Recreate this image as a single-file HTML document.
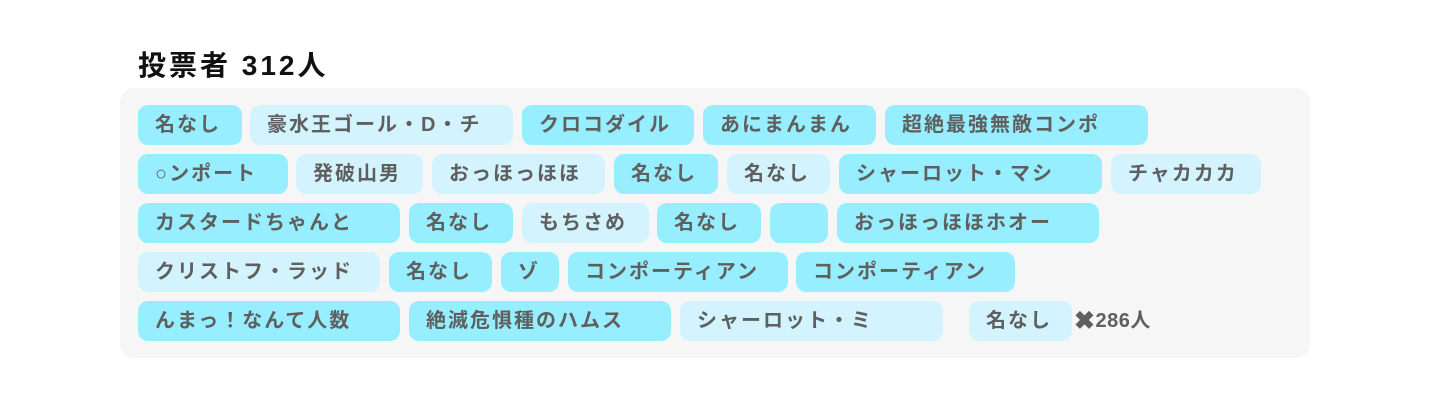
<!DOCTYPE html>
<html><head><meta charset="utf-8"><style>
body{margin:0;width:1429px;height:408px;background:#fff;position:relative;overflow:hidden;font-family:"Liberation Sans","Noto Sans CJK JP",sans-serif;}
.t{position:absolute;left:138px;top:47px;font-size:28px;font-weight:bold;color:#111;line-height:38px;letter-spacing:3px;}
.box{position:absolute;left:120px;top:88px;width:1190px;height:270px;background:#f6f6f6;border-radius:14px;}
.c{position:absolute;height:40px;line-height:40px;border-radius:10px;font-size:20px;font-weight:bold;color:#5f5f5f;padding-left:17px;box-sizing:border-box;white-space:nowrap;overflow:hidden;letter-spacing:2px;}
.d{background:#96eefe;}.l{background:#d3f4fe;}
.x{position:absolute;left:1074px;top:301px;line-height:40px;font-size:20px;font-weight:bold;color:#5f5f5f;letter-spacing:0.5px;}
.x span{font-size:25px;vertical-align:-2px;}
</style></head><body>
<div class="t">投票者 312人</div>
<div class="box"></div>
<div class="c d" style="left:138px;top:105px;width:104px">名なし</div>
<div class="c l" style="left:250px;top:105px;width:263px">豪水王ゴール・D・チ</div>
<div class="c d" style="left:522px;top:105px;width:172px">クロコダイル</div>
<div class="c d" style="left:703px;top:105px;width:173px">あにまんまん</div>
<div class="c d" style="left:885px;top:105px;width:263px">超絶最強無敵コンポ</div>

<div class="c d" style="left:138px;top:154px;width:150px">○ンポート</div>
<div class="c l" style="left:296px;top:154px;width:127px">発破山男</div>
<div class="c l" style="left:432px;top:154px;width:173px">おっほっほほ</div>
<div class="c d" style="left:614px;top:154px;width:104px">名なし</div>
<div class="c l" style="left:727px;top:154px;width:103px">名なし</div>
<div class="c d" style="left:839px;top:154px;width:263px">シャーロット・マシ</div>
<div class="c l" style="left:1111px;top:154px;width:150px">チャカカカ</div>

<div class="c d" style="left:138px;top:203px;width:262px">カスタードちゃんと</div>
<div class="c d" style="left:409px;top:203px;width:104px">名なし</div>
<div class="c l" style="left:522px;top:203px;width:127px">もちさめ</div>
<div class="c d" style="left:657px;top:203px;width:104px">名なし</div>
<div class="c d" style="left:770px;top:203px;width:58px"></div>
<div class="c d" style="left:837px;top:203px;width:262px">おっほっほほホオー</div>

<div class="c l" style="left:138px;top:252px;width:242px">クリストフ・ラッド</div>
<div class="c d" style="left:389px;top:252px;width:103px">名なし</div>
<div class="c d" style="left:501px;top:252px;width:58px">ゾ</div>
<div class="c d" style="left:568px;top:252px;width:220px">コンポーティアン</div>
<div class="c d" style="left:796px;top:252px;width:219px">コンポーティアン</div>

<div class="c d" style="left:138px;top:301px;width:262px">んまっ！なんて人数</div>
<div class="c d" style="left:409px;top:301px;width:262px">絶滅危惧種のハムス</div>
<div class="c l" style="left:680px;top:301px;width:263px">シャーロット・ミ</div>
<div class="c l" style="left:969px;top:301px;width:103px">名なし</div>
<div class="x"><span>✖</span>286人</div>
</body></html>
